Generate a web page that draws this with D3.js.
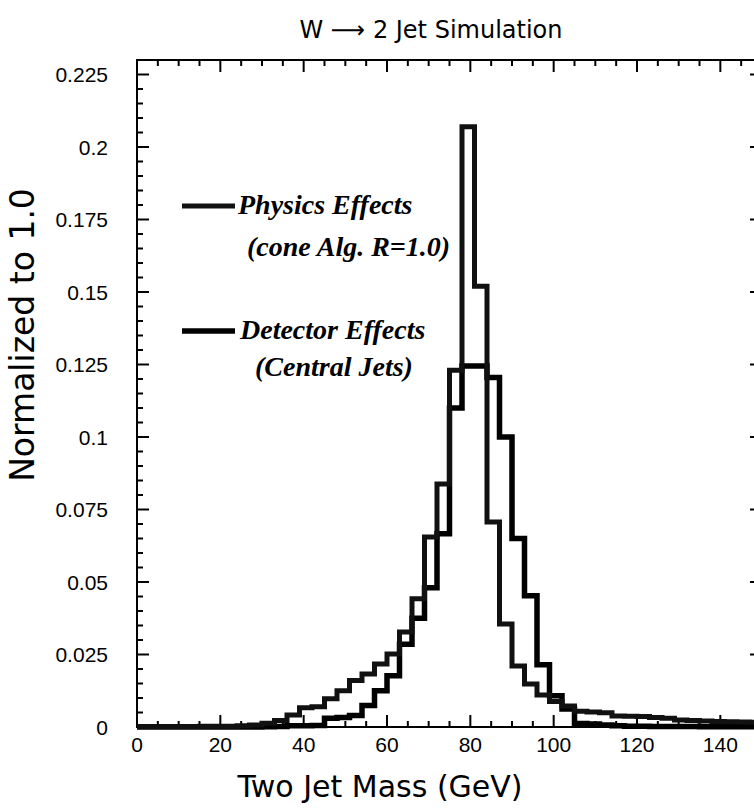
<!DOCTYPE html>
<html>
<head>
<meta charset="utf-8">
<script src="https://cdn.jsdelivr.net/npm/d3@7"></script>
<style>
  body { margin: 0; background: #fff; }
  text { fill: #000; }
</style>
</head>
<body>
<div id="chart"></div>
<script>
// bins of 3 GeV, 0 to 150
var binWidth = 3;
var physics = [
  0.0002, 0.0002, 0.0002, 0.0002, 0.0002, 0.0003, 0.0003, 0.0003,
  0.0004, 0.0007, 0.0013, 0.0022, 0.0041, 0.0066, 0.0070, 0.0097, 0.0125, 0.0160, 0.0183,
  0.0217, 0.0252, 0.0328, 0.0442, 0.0655, 0.0838, 0.1230,
  0.2070, 0.1520, 0.0707, 0.0355, 0.0210, 0.0148, 0.0110, 0.0088, 0.0072,
  0.0054, 0.0052, 0.0049, 0.0038, 0.0037, 0.0036, 0.0033, 0.0030, 0.0024, 0.0022,
  0.0021, 0.0019, 0.0018, 0.0017, 0.0016
];
var detector = [
  0, 0, 0, 0, 0, 0, 0, 0, 0, 0,
  0.0001, 0.0002, 0.0004, 0.0004, 0.0005, 0.0030, 0.0033, 0.0040, 0.0074, 0.0125,
  0.0177, 0.0285, 0.0375, 0.0480, 0.0666, 0.1100, 0.1245, 0.1245, 0.1205, 0.1000,
  0.0650, 0.0453, 0.0215, 0.0108, 0.0062,
  0.0012, 0.0010, 0.0007, 0.0004, 0.0003, 0.0003, 0.0002, 0.0002, 0.0002, 0.0002,
  0.0001, 0.0001, 0.0001, 0.0001, 0.0001
];
var xTicks = [0, 20, 40, 60, 80, 100, 120, 140];
var yTicks = [0, 0.025, 0.05, 0.075, 0.1, 0.125, 0.15, 0.175, 0.2, 0.225];
var yTickLabels = ["0", "0.025", "0.05", "0.075", "0.1", "0.125", "0.15", "0.175", "0.2", "0.225"];

var widthsvg = 754, heightsvg = 809;
var plotL = 137, plotT = 60, plotR = 762, plotB = 727;

var svg = d3.select("#chart").append("svg")
  .attr("width", widthsvg)
  .attr("height", heightsvg);

var scalex = d3.scaleLinear().domain([0, 150]).range([plotL, plotR]);
var scaley = d3.scaleLinear().domain([0, 0.23]).range([plotB, plotT]);

// frame
svg.append("rect")
  .attr("x", plotL).attr("y", plotT)
  .attr("width", plotR - plotL).attr("height", plotB - plotT)
  .attr("fill", "none").attr("stroke", "#000").attr("stroke-width", 2);

// ticks on all four sides, pointing inward
var minorX = d3.range(0, 151, 5);
var minorY = d3.range(0, 0.2301, 0.005);
function isMajorX(v) { return v % 20 === 0; }
function isMajorY(v) { return Math.abs(v / 0.025 - Math.round(v / 0.025)) < 1e-6; }

var ticks = svg.append("g").attr("stroke", "#000").attr("stroke-width", 2);
minorX.forEach(function(v) {
  var len = isMajorX(v) ? 12 : 6;
  ticks.append("line").attr("x1", scalex(v)).attr("x2", scalex(v))
    .attr("y1", plotB).attr("y2", plotB - len);
  ticks.append("line").attr("x1", scalex(v)).attr("x2", scalex(v))
    .attr("y1", plotT).attr("y2", plotT + len);
});
minorY.forEach(function(v) {
  var len = isMajorY(v) ? 12 : 6;
  ticks.append("line").attr("y1", scaley(v)).attr("y2", scaley(v))
    .attr("x1", plotL).attr("x2", plotL + len);
  ticks.append("line").attr("y1", scaley(v)).attr("y2", scaley(v))
    .attr("x1", plotR).attr("x2", plotR - len);
});

// tick labels
svg.append("g").selectAll("text").data(xTicks).enter().append("text")
  .attr("x", d => scalex(d)).attr("y", 752)
  .attr("text-anchor", "middle")
  .style("font-family", "Liberation Sans, Arial, sans-serif").style("font-size", "21px")
  .text(d => d);

svg.append("g").selectAll("text").data(yTicks).enter().append("text")
  .attr("x", 108).attr("y", d => scaley(d)).attr("dy", "0.36em")
  .attr("text-anchor", "end")
  .style("font-family", "Liberation Sans, Arial, sans-serif").style("font-size", "21px")
  .text((d, i) => yTickLabels[i]);

// histograms
function steps(vals) {
  var pts = vals.map((v, i) => [i * binWidth, v]);
  pts.push([vals.length * binWidth, vals[vals.length - 1]]);
  return pts;
}
var line = d3.line()
  .x(d => scalex(d[0])).y(d => scaley(d[1]))
  .curve(d3.curveStepAfter);

svg.append("path").datum(steps(detector))
  .attr("d", line).attr("fill", "none")
  .attr("stroke", "#000").attr("stroke-width", 5.5);
svg.append("path").datum(steps(physics))
  .attr("d", line).attr("fill", "none")
  .attr("stroke", "#111").attr("stroke-width", 5);

// legend
var legend = svg.append("g")
  .style("font-family", "Liberation Serif, Times New Roman, serif")
  .style("font-weight", "bold").style("font-style", "italic").style("font-size", "28px");
legend.append("line").attr("x1", 182).attr("x2", 235).attr("y1", 206).attr("y2", 206)
  .attr("stroke", "#111").attr("stroke-width", 5);
legend.append("text").attr("x", 238).attr("y", 214).text("Physics Effects");
legend.append("text").attr("x", 247).attr("y", 256).text("(cone Alg. R=1.0)");
legend.append("line").attr("x1", 182).attr("x2", 235).attr("y1", 331).attr("y2", 331)
  .attr("stroke", "#000").attr("stroke-width", 5.5);
legend.append("text").attr("x", 240).attr("y", 339).text("Detector Effects");
legend.append("text").attr("x", 255).attr("y", 376).text("(Central Jets)");

// titles
svg.append("text").attr("x", 431).attr("y", 38).attr("text-anchor", "middle")
  .style("font-family", "DejaVu Sans, sans-serif").style("font-size", "24px")
  .text("W \u27F6 2 Jet Simulation");

svg.append("text").attr("x", 380).attr("y", 797).attr("text-anchor", "middle")
  .style("font-family", "DejaVu Sans, sans-serif").style("font-size", "30px")
  .text("Two Jet Mass (GeV)");

svg.append("text")
  .attr("transform", "translate(34, 335) rotate(-90)")
  .attr("text-anchor", "middle")
  .style("font-family", "DejaVu Sans, sans-serif").style("font-size", "33px")
  .text("Normalized to 1.0");
</script>
</body>
</html>
